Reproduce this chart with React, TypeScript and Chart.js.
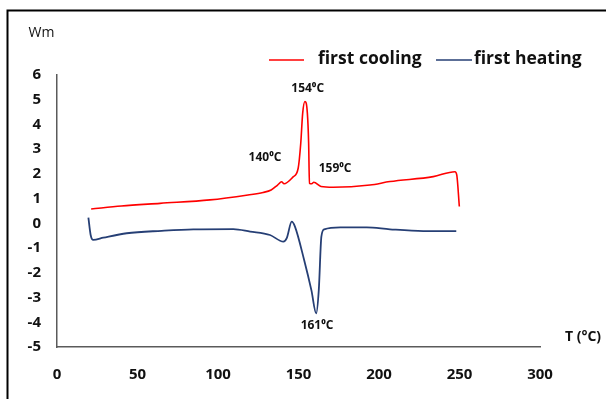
import React, { useEffect, useRef } from "react";
import { Chart, registerables } from "chart.js";

Chart.register(...registerables);

// First cooling curve (temperature in °C, heat flow)
const coolingT = [21.2, 40, 64, 95, 118.6, 128, 133, 137, 139.5, 141, 146.5, 149.8, 151.4, 152.6, 154, 155.5, 156.3, 156.8, 158.2, 159.5, 164, 171.5, 194.4, 206.8, 233.7, 247.2, 248.3, 249.9];
const coolingW = [0.58, 0.7, 0.81, 0.95, 1.15, 1.25, 1.35, 1.55, 1.68, 1.6, 1.87, 2.23, 3.24, 4.46, 4.93, 4.46, 3.24, 1.62, 1.6, 1.66, 1.49, 1.46, 1.55, 1.69, 1.89, 2.09, 1.96, 0.68];

// First heating curve
const heatingT = [19.5, 20.9, 22.5, 28.8, 43.3, 65, 84.7, 109.5, 120, 132.3, 140.6, 142.7, 145.8, 147.8, 153.5, 158, 161, 162.6, 164.2, 166, 176, 192.4, 206.8, 227.5, 248];
const heatingW = [0.23, -0.47, -0.67, -0.58, -0.4, -0.3, -0.24, -0.23, -0.33, -0.47, -0.74, -0.6, 0.07, -0.13, -1.48, -2.7, -3.64, -2.7, -0.54, -0.24, -0.16, -0.16, -0.24, -0.31, -0.31];

const seriesNames = ["first cooling", "first heating"];
const xTickValues = [0, 50, 100, 150, 200, 250, 300];
const yTickValues = [6, 5, 4, 3, 2, 1, 0, -1, -2, -3, -4, -5];

// Peak labels, anchored in data coordinates
const peakText = ["154⁰C", "140⁰C", "159⁰C", "161⁰C"];
const peakAtT = [155.7, 129.2, 172.7, 161.5];
const peakAtW = [5.44, 2.65, 2.2, -4.15];

const FONT = "'Open Sans', 'DejaVu Sans', sans-serif";
const RED = "#ff0000";
const BLUE = "#263f75";
const AXIS = "#5a5a5a";

const decorations = {
  id: "decorations",
  afterDraw(chart: any) {
    const ctx: CanvasRenderingContext2D = chart.ctx;
    const xs = chart.scales.x;
    const ys = chart.scales.y;
    ctx.save();

    // outer frame
    ctx.strokeStyle = "#000";
    ctx.lineWidth = 2;
    ctx.beginPath();
    ctx.moveTo(7.5, 399);
    ctx.lineTo(7.5, 10.5);
    ctx.lineTo(606, 10.5);
    ctx.stroke();

    // axis titles
    ctx.fillStyle = "#111";
    ctx.textBaseline = "middle";
    ctx.textAlign = "center";
    ctx.font = `14px ${FONT}`;
    ctx.fillText("Wm", 41.5, 33);
    ctx.font = `bold 14px ${FONT}`;
    ctx.fillText("T (°C)", 583, 337);

    // legend
    const legend = [
      { x0: 269, x1: 304, tx: 318, color: RED, name: seriesNames[0] },
      { x0: 436, x1: 472, tx: 474, color: BLUE, name: seriesNames[1] },
    ];
    ctx.font = `bold 17.5px ${FONT}`;
    ctx.textAlign = "left";
    for (const item of legend) {
      ctx.strokeStyle = item.color;
      ctx.lineWidth = 1.5;
      ctx.beginPath();
      ctx.moveTo(item.x0, 60);
      ctx.lineTo(item.x1, 60);
      ctx.stroke();
      ctx.fillStyle = "#111";
      ctx.fillText(item.name, item.tx, 59);
    }

    // peak labels
    ctx.font = `bold 12px ${FONT}`;
    ctx.textAlign = "center";
    ctx.fillStyle = "#111";
    peakText.forEach((t, i) => {
      ctx.fillText(t, xs.getPixelForValue(peakAtT[i]), ys.getPixelForValue(peakAtW[i]));
    });

    ctx.restore();
  },
};

export default function App() {
  const canvasRef = useRef<HTMLCanvasElement | null>(null);

  useEffect(() => {
    const canvas = canvasRef.current;
    if (!canvas) return;
    const chart = new Chart(canvas, {
      type: "line",
      data: {
        datasets: [
          {
            label: seriesNames[0],
            data: coolingT.map((t, i) => ({ x: t, y: coolingW[i] })),
            borderColor: RED,
            borderWidth: 1.6,
            pointRadius: 0,
            cubicInterpolationMode: "monotone",
            fill: false,
          },
          {
            label: seriesNames[1],
            data: heatingT.map((t, i) => ({ x: t, y: heatingW[i] })),
            borderColor: BLUE,
            borderWidth: 1.8,
            pointRadius: 0,
            cubicInterpolationMode: "monotone",
            fill: false,
          },
        ],
      },
      options: {
        responsive: false,
        animation: false,
        devicePixelRatio: 1,
        layout: { padding: { left: 0, right: 66, top: 75, bottom: 0 } },
        plugins: {
          legend: { display: false },
          title: { display: false },
          tooltip: { enabled: false },
        },
        scales: {
          x: {
            type: "linear",
            min: 0,
            max: 300,
            afterBuildTicks: (scale: any) => {
              scale.ticks = xTickValues.map((v) => ({ value: v }));
            },
            afterFit: (scale: any) => {
              scale.height = 52;
            },
            grid: { display: false, drawTicks: false },
            border: { display: true, color: AXIS, width: 1.5 },
            ticks: {
              padding: 19,
              color: "#111",
              font: { family: FONT, size: 15, weight: "bold" },
              maxRotation: 0,
              autoSkip: false,
            },
          },
          y: {
            type: "linear",
            min: -5,
            max: 6,
            afterBuildTicks: (scale: any) => {
              scale.ticks = yTickValues.map((v) => ({ value: v }));
            },
            afterFit: (scale: any) => {
              scale.width = 57;
            },
            grid: { display: false, drawTicks: false },
            border: { display: true, color: AXIS, width: 1.5 },
            ticks: {
              padding: 16,
              color: "#111",
              font: { family: FONT, size: 15, weight: "bold" },
              autoSkip: false,
            },
          },
        },
      },
      plugins: [decorations],
    });
    return () => chart.destroy();
  }, []);

  return (
    <div style={{ position: "fixed", left: 0, top: 0, width: 606, height: 399, background: "#fff" }}>
      <canvas ref={canvasRef} width={606} height={399} style={{ width: 606, height: 399, display: "block" }} />
    </div>
  );
}
